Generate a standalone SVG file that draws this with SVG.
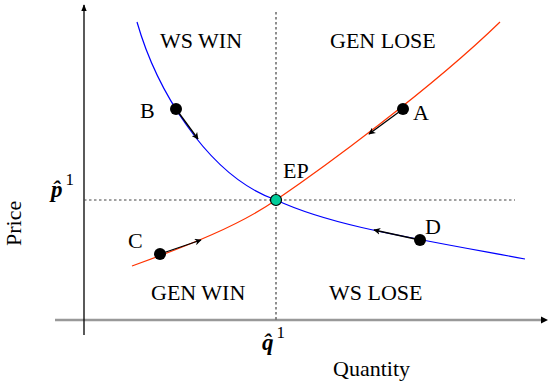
<svg xmlns="http://www.w3.org/2000/svg" width="549" height="385" viewBox="0 0 549 385">
<defs>
<marker id="ah" viewBox="0 0 10 10" refX="9" refY="5" markerWidth="7" markerHeight="7" orient="auto" markerUnits="userSpaceOnUse"><path d="M0,0 L10,5 L0,10 L3,5 z" fill="#000"/></marker>
<marker id="axh" viewBox="0 0 10 10" refX="9" refY="5" markerWidth="7" markerHeight="7" orient="auto" markerUnits="userSpaceOnUse"><path d="M0,1 L10,5 L0,9 z" fill="#000"/></marker>
</defs>
<style>
text{font-family:"Liberation Serif","Times New Roman",serif;font-size:22px;fill:#000}
.dot{fill:#000}
.mv{stroke:#000;stroke-width:1.3;fill:none;marker-end:url(#ah)}
.dash{stroke:#444;stroke-width:1.2;stroke-dasharray:2.5,2.5;fill:none}
.sym{font-weight:bold;font-style:italic;font-size:23px}
.sup{font-size:17px;font-weight:normal;font-style:normal}
</style>
<rect width="549" height="385" fill="#fff"/>
<g id="axes">
<line x1="55" y1="320" x2="543" y2="320" stroke="#999" stroke-width="2.5"/>
<line x1="84" y1="335" x2="84" y2="5" stroke="#000" stroke-width="1.3" marker-end="url(#axh)"/>
<path d="M541,316.5 L548,320 L541,323.5 z" fill="#000"/>
</g>
<g id="guides">
<line class="dash" x1="276" y1="12" x2="276" y2="320"/>
<line class="dash" x1="84" y1="200" x2="515" y2="200"/>
</g>
<g id="connectors">
<path id="ws-curve" d="M137,22 C155,85 205,175 276,200 C330,225 400,236 525,259" stroke="#0000ff" stroke-width="1.2" fill="none"/>
<path id="gen-curve" d="M132,266 C190,245 240,225 276,200 C320,170 430,90 500,22" stroke="#ff3300" stroke-width="1.2" fill="none"/>
<line class="mv" x1="176" y1="109" x2="198" y2="139"/>
<line class="mv" x1="403" y1="109" x2="369" y2="134"/>
<line class="mv" x1="160" y1="254" x2="201" y2="240"/>
<line class="mv" x1="420" y1="240" x2="374" y2="230"/>
</g>
<g id="B"><circle class="dot" cx="176" cy="109" r="6"/><text x="140" y="118">B</text></g>
<g id="A"><circle class="dot" cx="403" cy="109" r="6"/><text x="413" y="120">A</text></g>
<g id="C"><circle class="dot" cx="160" cy="254" r="6"/><text x="128" y="248">C</text></g>
<g id="D"><circle class="dot" cx="420" cy="240" r="6"/><text x="425" y="234">D</text></g>
<g id="EP"><circle cx="276" cy="200" r="5.5" fill="#00cc99" stroke="#000" stroke-width="1.2"/><text x="283" y="178">EP</text></g>
<g id="labels">
<text x="160" y="48">WS WIN</text>
<text x="330" y="48">GEN LOSE</text>
<text x="151" y="300">GEN WIN</text>
<text x="329" y="300">WS LOSE</text>
<text x="333" y="376">Quantity</text>
<text transform="translate(21,246) rotate(-90)">Price</text>
<text x="51" y="197" class="sym">p̂<tspan class="sup" dx="3" dy="-12">1</tspan></text>
<text x="262" y="350" class="sym">q̂<tspan class="sup" dx="3" dy="-12">1</tspan></text>
</g>
</svg>
